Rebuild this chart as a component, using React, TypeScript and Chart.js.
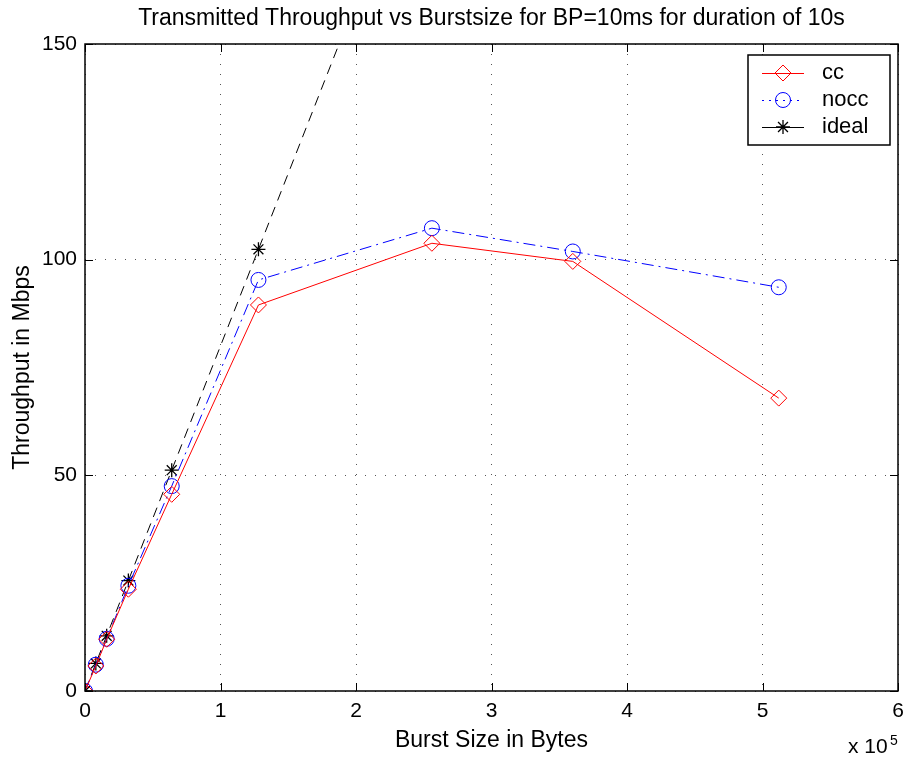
import React, { useEffect, useRef } from "react";
import { Chart, registerables } from "chart.js";

Chart.register(...registerables);

const burstSizes = [0, 8000, 16000, 32000, 64000, 128000, 256000, 360000, 512000];
const ccValues = [0, 5.8, 12.0, 23.6, 45.6, 89.5, 103.8, 99.6, 67.9];
const noccValues = [0, 6.1, 12.1, 24.4, 47.5, 95.3, 107.3, 101.9, 93.6];
const idealValues = [0, 6.4, 12.8, 25.6, 51.2, 102.4, 204.8, 288, 409.6];

const xTicks = [0, 100000, 200000, 300000, 400000, 500000, 600000];
const yTicks = [0, 50, 100, 150];

const titleText = "Transmitted Throughput vs Burstsize for BP=10ms for duration of 10s";
const xTitle = "Burst Size in Bytes";
const yTitle = "Throughput in Mbps";
const legendLabels = ["cc", "nocc", "ideal"];

const FONT = "'Liberation Sans', Arial, Helvetica, sans-serif";

function drawMarker(ctx: CanvasRenderingContext2D, style: string, x: number, y: number, r: number, color: string, w: number) {
  ctx.save();
  ctx.setLineDash([]);
  ctx.strokeStyle = color;
  ctx.lineWidth = w;
  ctx.beginPath();
  if (style === "rectRot") {
    ctx.moveTo(x, y - r);
    ctx.lineTo(x + r, y);
    ctx.lineTo(x, y + r);
    ctx.lineTo(x - r, y);
    ctx.closePath();
  } else if (style === "circle") {
    ctx.arc(x, y, r, 0, Math.PI * 2);
  } else {
    for (let i = 0; i < 4; i++) {
      const a = (i * Math.PI) / 4;
      ctx.moveTo(x - Math.cos(a) * r, y - Math.sin(a) * r);
      ctx.lineTo(x + Math.cos(a) * r, y + Math.sin(a) * r);
    }
  }
  ctx.stroke();
  ctx.restore();
}

const framePlugin = {
  id: "matlabFrame",
  afterDatasetsDraw(chart: any) {
    const { ctx, chartArea } = chart;
    const { left, right, top, bottom } = chartArea;
    const xs = chart.scales.x;
    const ys = chart.scales.y;
    ctx.save();
    ctx.setLineDash([]);
    ctx.strokeStyle = "#000";
    ctx.lineWidth = 1.5;
    ctx.strokeRect(left, top, right - left, bottom - top);
    ctx.lineWidth = 1;
    const tl = 8;
    ctx.beginPath();
    xTicks.forEach((v) => {
      const px = Math.round(xs.getPixelForValue(v)) + 0.5;
      ctx.moveTo(px, bottom);
      ctx.lineTo(px, bottom - tl);
      ctx.moveTo(px, top);
      ctx.lineTo(px, top + tl);
    });
    yTicks.forEach((v) => {
      const py = Math.round(ys.getPixelForValue(v)) + 0.5;
      ctx.moveTo(left, py);
      ctx.lineTo(left + tl, py);
      ctx.moveTo(right, py);
      ctx.lineTo(right - tl, py);
    });
    ctx.stroke();

    // title centred over the plot area
    ctx.fillStyle = "#000";
    ctx.textAlign = "center";
    ctx.textBaseline = "middle";
    ctx.font = `23px ${FONT}`;
    ctx.fillText(titleText, (left + right) / 2, 19);

    // exponent label
    ctx.textAlign = "left";
    ctx.textBaseline = "alphabetic";
    ctx.font = `21px ${FONT}`;
    ctx.fillText("x 10", 848, 753);
    ctx.font = `14px ${FONT}`;
    ctx.fillText("5", 890, 745);

    // legend
    const bx = 748, by = 55, bw = 142, bh = 90;
    ctx.fillStyle = "#fff";
    ctx.fillRect(bx, by, bw, bh);
    ctx.strokeStyle = "#000";
    ctx.lineWidth = 1.5;
    ctx.strokeRect(bx, by, bw, bh);
    const rows = [73, 100, 127];
    const ds = chart.data.datasets;
    for (let i = 0; i < 3; i++) {
      const d = ds[i];
      const y = rows[i];
      ctx.save();
      ctx.strokeStyle = d.borderColor;
      ctx.lineWidth = 1;
      ctx.setLineDash(i === 1 ? [2, 5] : []);
      ctx.beginPath();
      ctx.moveTo(762, y + 0.5);
      ctx.lineTo(804, y + 0.5);
      ctx.stroke();
      ctx.restore();
      drawMarker(ctx, d.pointStyle, 783, y, d.pointRadius, d.borderColor, d.pointBorderWidth);
      ctx.fillStyle = "#000";
      ctx.font = `22px ${FONT}`;
      ctx.textAlign = "left";
      ctx.textBaseline = "middle";
      ctx.fillText(legendLabels[i], 822, y);
    }
    ctx.restore();
  },
};

export default function App() {
  const ref = useRef<HTMLCanvasElement | null>(null);
  useEffect(() => {
    if (!ref.current) return;
    Chart.defaults.font.family = FONT;
    Chart.defaults.color = "#000";
    const mk = (vals: number[]) => burstSizes.map((x, i) => ({ x, y: vals[i] }));
    const chart = new Chart(ref.current, {
      type: "line",
      data: {
        datasets: [
          {
            label: legendLabels[0],
            data: mk(ccValues),
            borderColor: "#ff0000",
            backgroundColor: "rgba(0,0,0,0)",
            borderWidth: 1,
            pointStyle: "rectRot",
            pointRadius: 8,
            pointBorderWidth: 1,
            pointBackgroundColor: "rgba(0,0,0,0)",
            pointBorderColor: "#ff0000",
          },
          {
            label: legendLabels[1],
            data: mk(noccValues),
            borderColor: "#0000ff",
            backgroundColor: "rgba(0,0,0,0)",
            borderWidth: 1,
            borderDash: [12, 5, 2, 5],
            pointStyle: "circle",
            pointRadius: 7.5,
            pointBorderWidth: 1,
            pointBackgroundColor: "rgba(0,0,0,0)",
            pointBorderColor: "#0000ff",
          },
          {
            label: legendLabels[2],
            data: mk(idealValues),
            borderColor: "#000000",
            backgroundColor: "rgba(0,0,0,0)",
            borderWidth: 1,
            borderDash: [10, 7],
            pointStyle: "star",
            pointRadius: 7,
            pointBorderWidth: 1.3,
            pointBackgroundColor: "rgba(0,0,0,0)",
            pointBorderColor: "#000000",
          },
        ],
      },
      options: {
        animation: false,
        responsive: false,
        devicePixelRatio: 1,
        layout: { padding: { left: 0, right: 0, top: 44, bottom: 0 } },
        plugins: {
          legend: { display: false },
          tooltip: { enabled: false },
          title: { display: false },
        },
        scales: {
          x: {
            type: "linear",
            min: 0,
            max: 600000,
            afterFit: (s: any) => {
              s.height = 72;
              s.paddingLeft = 0;
              s.paddingRight = 7;
            },
            afterBuildTicks: (s: any) => {
              s.ticks = xTicks.map((v) => ({ value: v }));
            },
            ticks: {
              color: "#000",
              font: { size: 21, family: FONT },
              padding: 8,
              maxRotation: 0,
              callback: (v: any) => String(Number(v) / 100000),
            },
            grid: {
              color: "#555",
              lineWidth: 1,
              drawTicks: false,
            },
            border: { display: false, dash: [1, 9] },
            title: {
              display: true,
              text: xTitle,
              color: "#000",
              font: { size: 23, family: FONT },
              padding: { top: 0, bottom: 9 },
            },
          },
          y: {
            type: "linear",
            min: 0,
            max: 150,
            afterFit: (s: any) => {
              s.width = 85;
            },
            afterBuildTicks: (s: any) => {
              s.ticks = yTicks.map((v) => ({ value: v }));
            },
            ticks: {
              color: "#000",
              font: { size: 21, family: FONT },
              padding: 8,
            },
            grid: {
              color: "#555",
              lineWidth: 1,
              drawTicks: false,
            },
            border: { display: false, dash: [1, 9] },
            title: {
              display: true,
              text: yTitle,
              color: "#000",
              font: { size: 23, family: FONT },
              padding: { top: 9, bottom: 0 },
            },
          },
        },
      },
      plugins: [framePlugin],
    } as any);
    return () => chart.destroy();
  }, []);
  return (
    <div style={{ position: "fixed", left: 0, top: 0, width: 907, height: 763, background: "#fff" }}>
      <canvas ref={ref} width={907} height={763} style={{ display: "block" }} />
    </div>
  );
}
